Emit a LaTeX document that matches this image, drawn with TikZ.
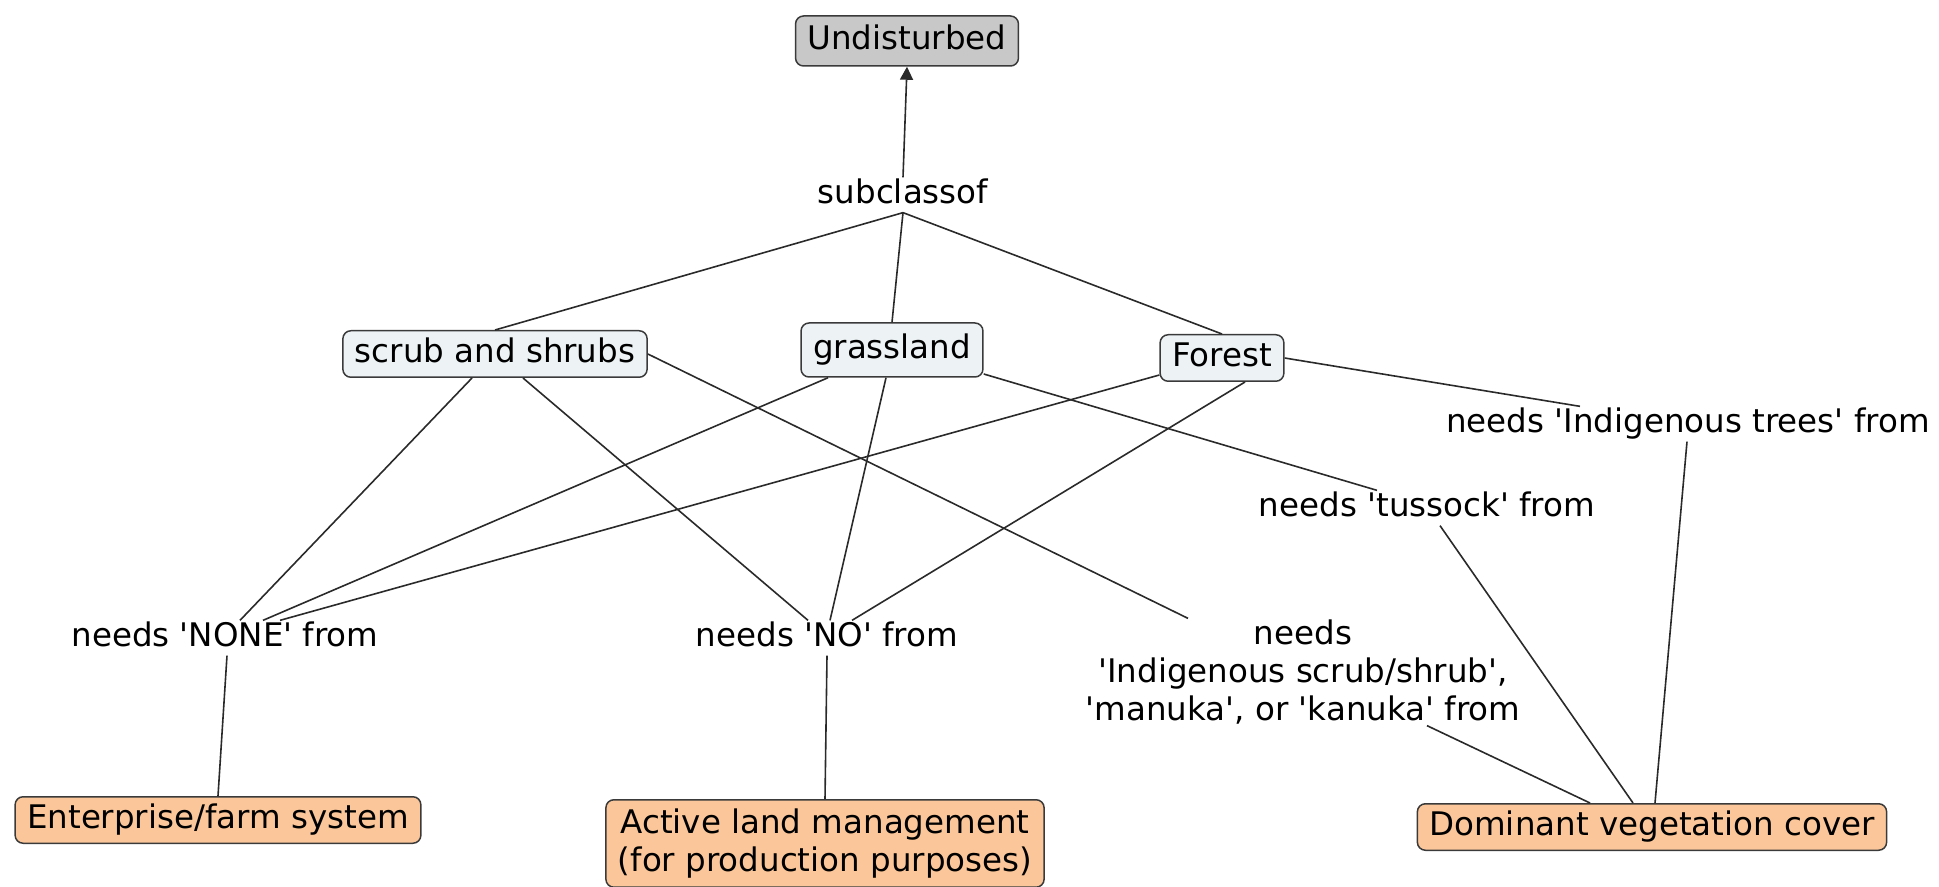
\documentclass[tikz,border=0pt]{standalone}
\usepackage{fontspec}
\setmainfont{DejaVu Sans}
\usetikzlibrary{calc,arrows.meta}
\newcommand{\myq}{\textquotesingle}
\definecolor{undfill}{HTML}{C8C8C8}
\definecolor{cfill}{HTML}{EDF3F5}
\definecolor{ofill}{HTML}{FBC79A}
\definecolor{lcol}{HTML}{2A2A2A}
\definecolor{bcol}{HTML}{3A3A3A}
\begin{document}
\begin{tikzpicture}[x=0.5pt,y=-0.5pt,
  every node/.style={font=\fontsize{16.25pt}{19pt}\selectfont, text=black},
  boxbase/.style={draw=bcol, line width=0.75pt, rounded corners=4pt, inner xsep=6pt, inner ysep=3.5pt},
  box/.style={boxbase, text height=12.35pt, text depth=3.9pt},
  concept/.style={box, fill=cfill},
  topbox/.style={box, fill=undfill, minimum height=25pt},
  res/.style={box, fill=ofill},
  resml/.style={boxbase, fill=ofill, align=center, inner ysep=4.5pt},
  lab/.style={inner sep=0.5pt, align=center, text height=12.35pt, text depth=3.9pt},
  labml/.style={inner sep=0.5pt, align=center},
  link/.style={draw=lcol, line width=0.8pt}]
\useasboundingbox (0,0) rectangle (1939,887);

% concept nodes
\node[topbox] (und) at (907,41) {Undisturbed};
\node[concept] (scrub) at (495,354) {scrub and shrubs};
\node[concept, minimum height=27pt] (grass) at (892,350) {grassland};
\node[concept] (forest) at (1222,358) {Forest};
\node[res] (ent) at (218,820) {Enterprise/farm system};
\node[resml, anchor=north] (act) at (825,799) {Active land management\\(for production purposes)};
\node[res] (dom) at (1652,827) {Dominant vegetation cover};

% linking phrases
\node[lab] (sub) at (903,195) {subclassof};
\node[lab] (trees) at (1688,424) {needs \myq Indigenous trees\myq{} from};
\node[lab] (tussock) at (1427,508) {needs \myq tussock\myq{} from};
\node[lab] (none) at (225,638) {needs \myq NONE\myq{} from};
\node[lab] (no) at (827,638) {needs \myq NO\myq{} from};
\node[labml] (indig) at (1303,672) {needs\\\myq Indigenous scrub/shrub\myq,\\\myq manuka\myq, or \myq kanuka\myq{} from};

% connectors
\draw[link, -{Triangle[length=6.5pt, width=6.5pt]}] (sub.north) -- (und.south);
\draw[link] (sub.south) -- (scrub.north);
\draw[link] (sub.south) -- (grass.north);
\draw[link] (sub.south) -- (forest.north);

\draw[link] ($(scrub.south)+(-23,0)$) -- ($(none.north)+(15,0)$);
\draw[link] ($(scrub.south)+(28,0)$) -- ($(no.north)+(-19,0)$);
\draw[link] (scrub.east) -- ($(indig.north)+(-115,0)$);

\draw[link] ($(grass.south)+(-64,0)$) -- ($(none.north)+(38,0)$);
\draw[link] ($(grass.south)+(-6,0)$) -- ($(no.north)+(3,0)$);
\draw[link] ($(grass.east)+(0,24)$) -- ($(tussock.north)+(-50,0)$);

\draw[link] ($(forest.west)+(0,17)$) -- ($(none.north)+(55,0)$);
\draw[link] ($(forest.south)+(23,0)$) -- ($(no.north)+(25,0)$);
\draw[link] (forest.east) -- ($(trees.north)+(-108,0)$);

\draw[link] ($(none.south)+(2,0)$) -- (ent.north);
\draw[link] (no.south) -- (act.north);
\draw[link] ($(tussock.south)+(13,0)$) -- ($(dom.north)+(-19,0)$);
\draw[link] ($(trees.south)+(-1,0)$) -- ($(dom.north)+(3,0)$);
\draw[link] ($(indig.south)+(124,0)$) -- ($(dom.north)+(-62,0)$);
\end{tikzpicture}
\end{document}
